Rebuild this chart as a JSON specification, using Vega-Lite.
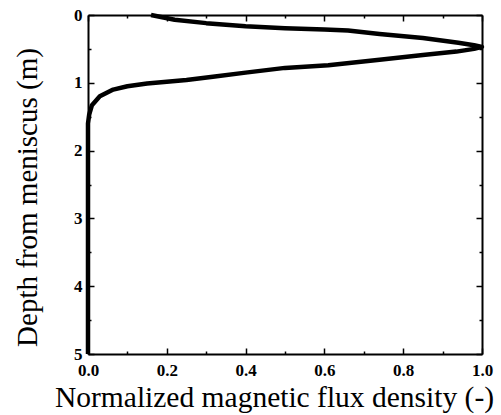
{
  "$schema": "https://vega.github.io/schema/vega-lite/v6.json",
  "width": 394,
  "height": 339,
  "autosize": {"type": "none"},
  "padding": {"left": 88, "top": 15, "right": 19, "bottom": 61},
  "background": "white",
  "config": {
    "view": {"stroke": null},
    "axis": {
      "domainColor": "black",
      "domainWidth": 2,
      "tickColor": "black",
      "tickWidth": 1.5,
      "grid": false,
      "labelColor": "black",
      "titleColor": "black"
    }
  },
  "data": {
    "values": [
      {"i": 0, "flux": 0.16, "depth": 0.0},
      {"i": 1, "flux": 0.22, "depth": 0.07},
      {"i": 2, "flux": 0.30, "depth": 0.12},
      {"i": 3, "flux": 0.40, "depth": 0.165},
      {"i": 4, "flux": 0.50, "depth": 0.195},
      {"i": 5, "flux": 0.60, "depth": 0.215},
      {"i": 6, "flux": 0.66, "depth": 0.23},
      {"i": 7, "flux": 0.74, "depth": 0.28},
      {"i": 8, "flux": 0.85, "depth": 0.34},
      {"i": 9, "flux": 0.94, "depth": 0.41},
      {"i": 10, "flux": 0.98, "depth": 0.445},
      {"i": 11, "flux": 1.0, "depth": 0.47},
      {"i": 12, "flux": 0.98, "depth": 0.50},
      {"i": 13, "flux": 0.935, "depth": 0.54},
      {"i": 14, "flux": 0.85, "depth": 0.59},
      {"i": 15, "flux": 0.74, "depth": 0.66},
      {"i": 16, "flux": 0.61, "depth": 0.74},
      {"i": 17, "flux": 0.50, "depth": 0.78},
      {"i": 18, "flux": 0.40, "depth": 0.85},
      {"i": 19, "flux": 0.317, "depth": 0.91},
      {"i": 20, "flux": 0.25, "depth": 0.96},
      {"i": 21, "flux": 0.15, "depth": 1.01},
      {"i": 22, "flux": 0.10, "depth": 1.05},
      {"i": 23, "flux": 0.064, "depth": 1.10},
      {"i": 24, "flux": 0.03, "depth": 1.2},
      {"i": 25, "flux": 0.01, "depth": 1.33},
      {"i": 26, "flux": 0.003, "depth": 1.47},
      {"i": 27, "flux": 0.0, "depth": 1.6},
      {"i": 28, "flux": 0.0, "depth": 5.0}
    ]
  },
  "layer": [
    {
      "mark": {"type": "line", "color": "black", "strokeWidth": 4.5, "strokeJoin": "round", "strokeCap": "butt"},
      "encoding": {
        "x": {
          "field": "flux", "type": "quantitative",
          "scale": {"domain": [0, 1], "nice": false, "zero": false},
          "axis": {
            "orient": "bottom",
            "title": "Normalized magnetic flux density (-)",
            "titleFont": "Liberation Serif",
            "titleFontWeight": "normal",
            "titleFontSize": 29.5,
            "values": [0, 0.2, 0.4, 0.6, 0.8, 1.0],
            "format": ".1f",
            "labelFont": "Liberation Serif",
            "labelFontWeight": "bold",
            "labelFontSize": 17,
            "tickSize": -6,
            "labelPadding": 14,
            "labelFlush": false,
            "labelOverlap": false,
            "titleX": 186,
            "titleY": 52,
            "titleAlign": "center",
            "titleBaseline": "alphabetic"
          }
        },
        "y": {
          "field": "depth", "type": "quantitative",
          "scale": {"domain": [0, 5], "reverse": true, "nice": false, "zero": false},
          "axis": {
            "orient": "left",
            "title": "Depth from meniscus (m)",
            "titleFont": "Liberation Serif",
            "titleFontWeight": "normal",
            "titleFontSize": 29,
            "values": [0, 1, 2, 3, 4, 5],
            "format": "d",
            "labelFont": "Liberation Serif",
            "labelFontWeight": "bold",
            "labelFontSize": 17,
            "tickSize": -6,
            "labelPadding": 12,
            "labelOffset": 0,
            "labelFlush": false,
            "labelOverlap": false,
            "titleX": -52,
            "titleY": 182,
            "titleAngle": -90,
            "titleAlign": "center",
            "titleBaseline": "alphabetic"
          }
        },
        "order": {"field": "i", "type": "quantitative"}
      }
    },
    {
      "mark": {"type": "line", "opacity": 0},
      "encoding": {
        "x": {
          "field": "flux", "type": "quantitative",
          "axis": {
            "orient": "bottom",
            "title": null,
            "labels": false,
            "domain": false,
            "values": [0.1, 0.3, 0.5, 0.7, 0.9],
            "tickSize": -3
          }
        },
        "y": {
          "field": "depth", "type": "quantitative",
          "axis": {
            "orient": "left",
            "title": null,
            "labels": false,
            "domain": false,
            "values": [0.5, 1.5, 2.5, 3.5, 4.5],
            "tickSize": -3
          }
        },
        "order": {"field": "i", "type": "quantitative"}
      }
    },
    {
      "mark": {"type": "line", "opacity": 0},
      "encoding": {
        "x": {
          "field": "flux", "type": "quantitative",
          "axis": {
            "orient": "top",
            "title": null,
            "labels": false,
            "values": [0, 0.2, 0.4, 0.6, 0.8, 1.0],
            "tickSize": -6
          }
        },
        "y": {
          "field": "depth", "type": "quantitative",
          "axis": {
            "orient": "right",
            "title": null,
            "labels": false,
            "values": [0, 1, 2, 3, 4, 5],
            "tickSize": -6
          }
        },
        "order": {"field": "i", "type": "quantitative"}
      }
    },
    {
      "mark": {"type": "line", "opacity": 0},
      "encoding": {
        "x": {
          "field": "flux", "type": "quantitative",
          "axis": {
            "orient": "top",
            "title": null,
            "labels": false,
            "domain": false,
            "values": [0.1, 0.3, 0.5, 0.7, 0.9],
            "tickSize": -3
          }
        },
        "y": {
          "field": "depth", "type": "quantitative",
          "axis": {
            "orient": "right",
            "title": null,
            "labels": false,
            "domain": false,
            "values": [0.5, 1.5, 2.5, 3.5, 4.5],
            "tickSize": -3
          }
        },
        "order": {"field": "i", "type": "quantitative"}
      }
    }
  ],
  "resolve": {"axis": {"x": "independent", "y": "independent"}}
}
